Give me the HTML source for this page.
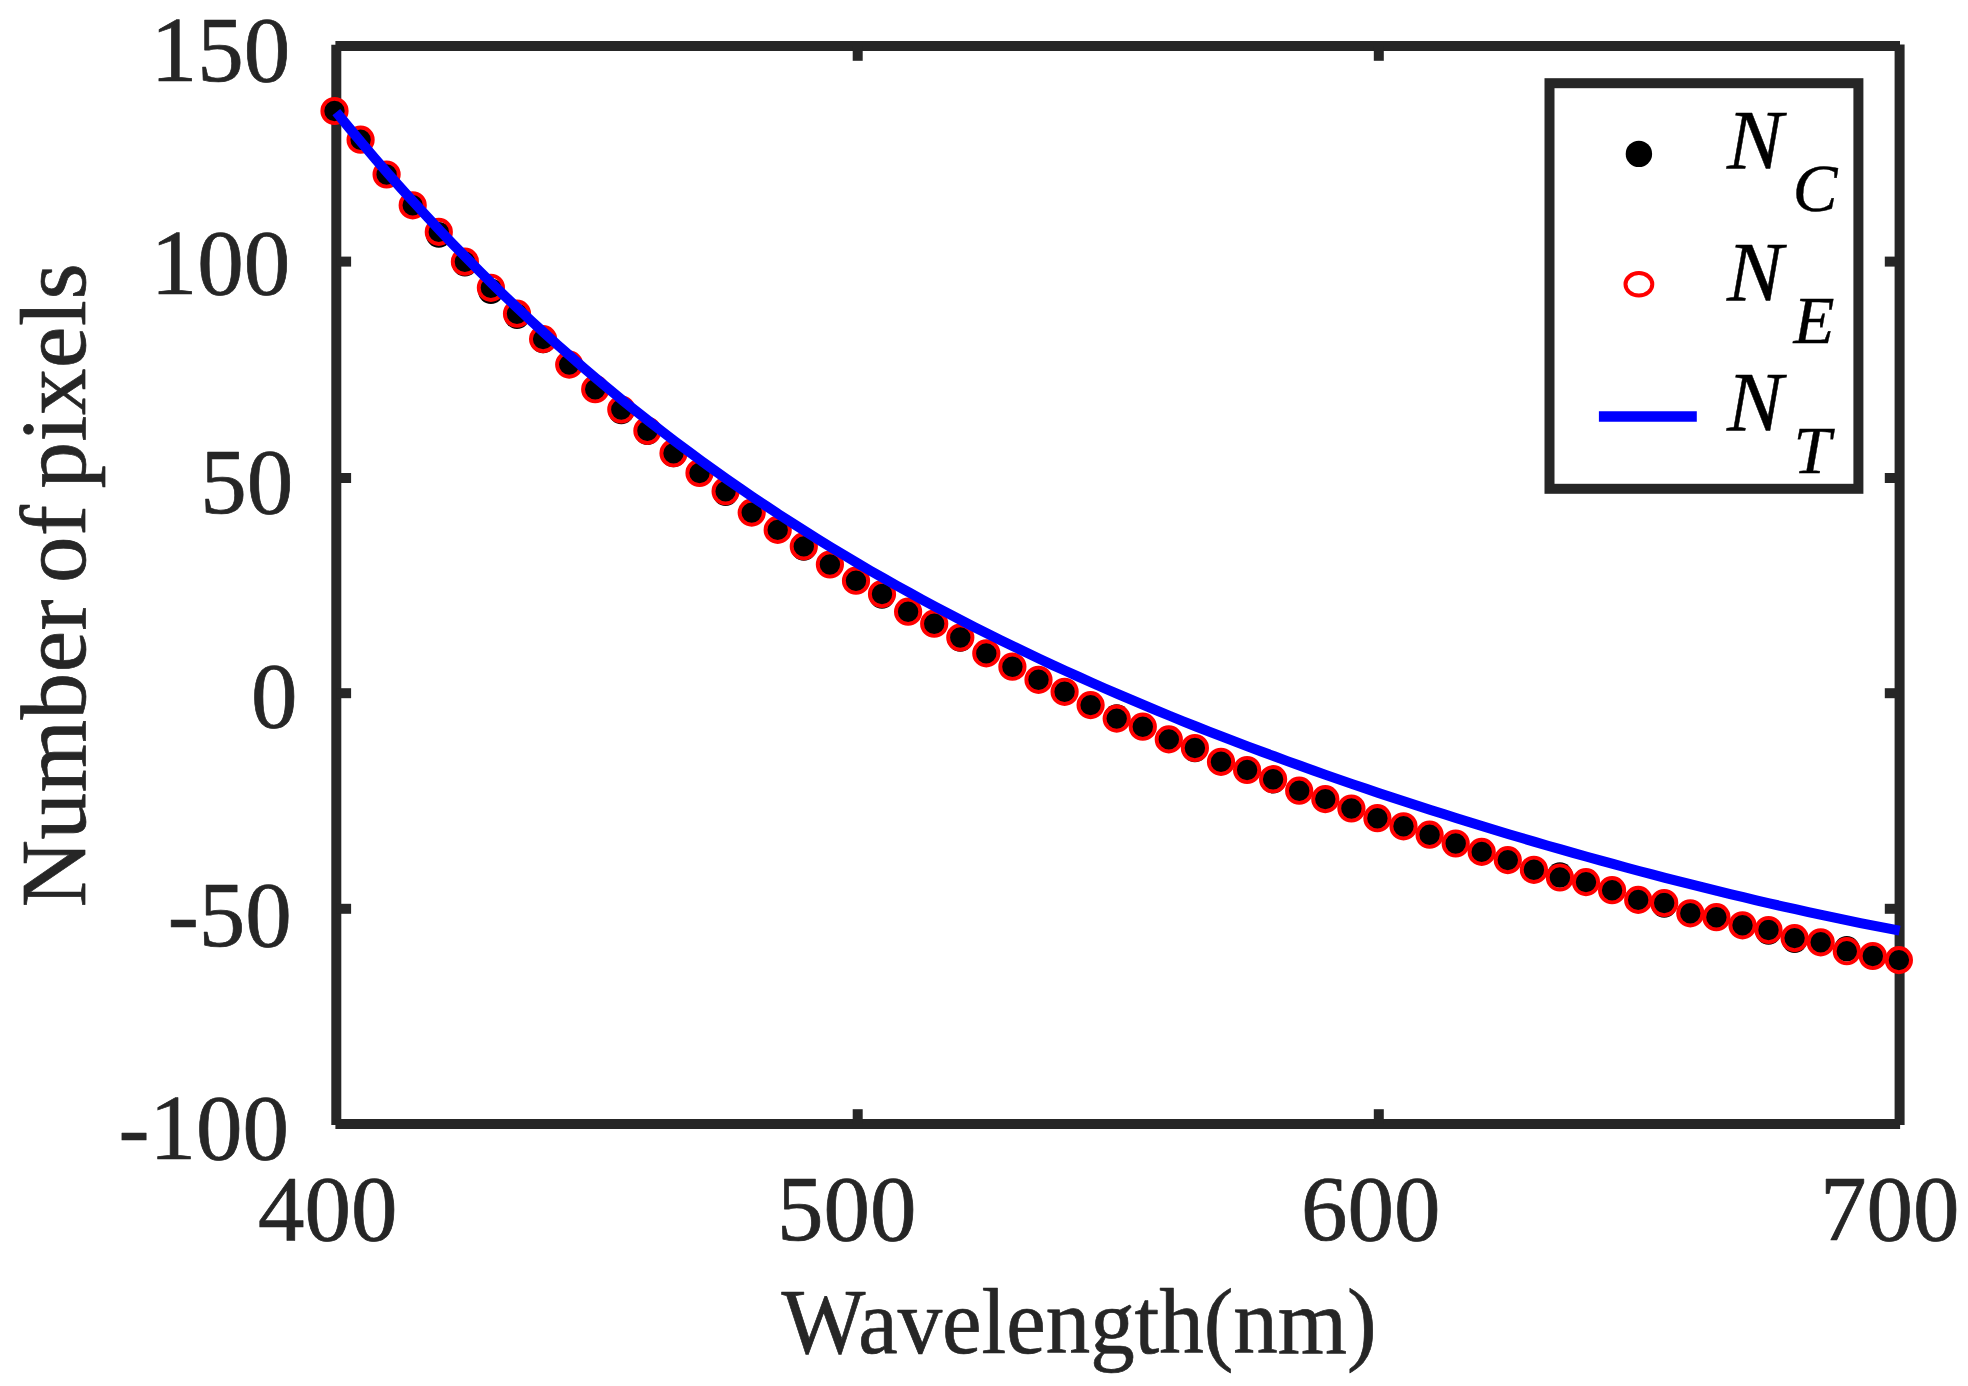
<!DOCTYPE html>
<html lang="en"><head><meta charset="utf-8"><title>Number of pixels vs Wavelength</title>
<style>
html,body{margin:0;padding:0;background:#fff;}
body{width:1968px;height:1386px;overflow:hidden;}
svg{display:block;}
text{font-family:"Liberation Serif","Times New Roman",serif;}
.tk{font-size:93px;fill:#262626;stroke:#262626;stroke-width:0.7px;stroke-linejoin:round;}
.lg{font-size:83.7px;fill:#000;font-style:italic;stroke:#000;stroke-width:0.5px;}
.sb{font-size:67px;fill:#000;font-style:italic;stroke:#000;stroke-width:0.4px;}
</style></head><body>
<svg width="1968" height="1386" viewBox="0 0 1968 1386">
<rect x="0" y="0" width="1968" height="1386" fill="#fff"/>
<g stroke="#262626" stroke-width="10" fill="none" stroke-linecap="butt">
<line x1="336.3" y1="44.7" x2="336.3" y2="1125"/>
<line x1="1899.6" y1="44.5" x2="1899.6" y2="1125"/>
<line x1="335.4" y1="46.0" x2="1900" y2="46.0"/>
<line x1="335.4" y1="1124.0" x2="1900.1" y2="1124.0"/>
<line x1="857.7" y1="1124.0" x2="857.7" y2="1109.2"/>
<line x1="857.7" y1="46.0" x2="857.7" y2="60.8"/>
<line x1="1378.8" y1="1124.0" x2="1378.8" y2="1109.2"/>
<line x1="1378.8" y1="46.0" x2="1378.8" y2="60.8"/>
<line x1="336.3" y1="261.6" x2="351.1" y2="261.6"/>
<line x1="1899.6" y1="261.6" x2="1884.8" y2="261.6"/>
<line x1="336.3" y1="478.0" x2="351.1" y2="478.0"/>
<line x1="1899.6" y1="478.0" x2="1884.8" y2="478.0"/>
<line x1="336.3" y1="693.2" x2="351.1" y2="693.2"/>
<line x1="1899.6" y1="693.2" x2="1884.8" y2="693.2"/>
<line x1="336.3" y1="908.8" x2="351.1" y2="908.8"/>
<line x1="1899.6" y1="908.8" x2="1884.8" y2="908.8"/>
</g>
<g fill="#000">
<circle cx="334.5" cy="111.0" r="12.8"/>
<circle cx="360.6" cy="139.7" r="12.8"/>
<circle cx="386.6" cy="174.5" r="12.8"/>
<circle cx="412.7" cy="205.3" r="12.8"/>
<circle cx="438.8" cy="234.9" r="12.8"/>
<circle cx="464.9" cy="263.7" r="12.8"/>
<circle cx="490.9" cy="291.3" r="12.8"/>
<circle cx="517.0" cy="316.2" r="12.8"/>
<circle cx="543.1" cy="340.4" r="12.8"/>
<circle cx="569.2" cy="364.6" r="12.8"/>
<circle cx="595.2" cy="389.2" r="12.8"/>
<circle cx="621.3" cy="411.5" r="12.8"/>
<circle cx="647.4" cy="432.1" r="12.8"/>
<circle cx="673.5" cy="454.5" r="12.8"/>
<circle cx="699.5" cy="473.0" r="12.8"/>
<circle cx="725.6" cy="493.2" r="12.8"/>
<circle cx="751.7" cy="512.6" r="12.8"/>
<circle cx="777.7" cy="529.9" r="12.8"/>
<circle cx="803.8" cy="547.9" r="12.8"/>
<circle cx="829.9" cy="564.5" r="12.8"/>
<circle cx="856.0" cy="580.7" r="12.8"/>
<circle cx="882.0" cy="596.0" r="12.8"/>
<circle cx="908.1" cy="611.7" r="12.8"/>
<circle cx="934.2" cy="623.7" r="12.8"/>
<circle cx="960.3" cy="639.0" r="12.8"/>
<circle cx="986.3" cy="653.4" r="12.8"/>
<circle cx="1012.4" cy="666.7" r="12.8"/>
<circle cx="1038.5" cy="679.8" r="12.8"/>
<circle cx="1064.6" cy="691.8" r="12.8"/>
<circle cx="1090.6" cy="705.1" r="12.8"/>
<circle cx="1116.7" cy="717.1" r="12.8"/>
<circle cx="1142.8" cy="726.7" r="12.8"/>
<circle cx="1168.8" cy="739.4" r="12.8"/>
<circle cx="1194.9" cy="749.5" r="12.8"/>
<circle cx="1221.0" cy="761.8" r="12.8"/>
<circle cx="1247.1" cy="770.0" r="12.8"/>
<circle cx="1273.1" cy="780.7" r="12.8"/>
<circle cx="1299.2" cy="790.7" r="12.8"/>
<circle cx="1325.3" cy="799.1" r="12.8"/>
<circle cx="1351.4" cy="808.5" r="12.8"/>
<circle cx="1377.4" cy="818.2" r="12.8"/>
<circle cx="1403.5" cy="826.3" r="12.8"/>
<circle cx="1429.6" cy="834.7" r="12.8"/>
<circle cx="1455.7" cy="843.5" r="12.8"/>
<circle cx="1481.7" cy="851.9" r="12.8"/>
<circle cx="1507.8" cy="860.1" r="12.8"/>
<circle cx="1533.9" cy="869.8" r="12.8"/>
<circle cx="1559.9" cy="875.0" r="12.8"/>
<circle cx="1586.0" cy="882.1" r="12.8"/>
<circle cx="1612.1" cy="890.2" r="12.8"/>
<circle cx="1638.2" cy="899.9" r="12.8"/>
<circle cx="1664.2" cy="905.0" r="12.8"/>
<circle cx="1690.3" cy="913.3" r="12.8"/>
<circle cx="1716.4" cy="917.2" r="12.8"/>
<circle cx="1742.5" cy="925.3" r="12.8"/>
<circle cx="1768.5" cy="932.0" r="12.8"/>
<circle cx="1794.6" cy="940.1" r="12.8"/>
<circle cx="1820.7" cy="942.3" r="12.8"/>
<circle cx="1846.8" cy="948.7" r="12.8"/>
<circle cx="1872.8" cy="956.0" r="12.8"/>
<circle cx="1898.9" cy="960.1" r="12.8"/>
</g>
<g fill="none" stroke="#f00" stroke-width="3.9">
<circle cx="334.5" cy="111.0" r="12.15"/>
<circle cx="360.6" cy="139.7" r="12.15"/>
<circle cx="386.6" cy="174.5" r="12.15"/>
<circle cx="412.7" cy="205.3" r="12.15"/>
<circle cx="438.8" cy="231.9" r="12.15"/>
<circle cx="464.9" cy="261.7" r="12.15"/>
<circle cx="490.9" cy="287.8" r="12.15"/>
<circle cx="517.0" cy="313.7" r="12.15"/>
<circle cx="543.1" cy="339.1" r="12.15"/>
<circle cx="569.2" cy="364.6" r="12.15"/>
<circle cx="595.2" cy="389.2" r="12.15"/>
<circle cx="621.3" cy="409.5" r="12.15"/>
<circle cx="647.4" cy="430.8" r="12.15"/>
<circle cx="673.5" cy="453.2" r="12.15"/>
<circle cx="699.5" cy="473.0" r="12.15"/>
<circle cx="725.6" cy="491.2" r="12.15"/>
<circle cx="751.7" cy="512.6" r="12.15"/>
<circle cx="777.7" cy="529.9" r="12.15"/>
<circle cx="803.8" cy="546.4" r="12.15"/>
<circle cx="829.9" cy="564.5" r="12.15"/>
<circle cx="856.0" cy="580.7" r="12.15"/>
<circle cx="882.0" cy="594.0" r="12.15"/>
<circle cx="908.1" cy="611.7" r="12.15"/>
<circle cx="934.2" cy="623.7" r="12.15"/>
<circle cx="960.3" cy="637.5" r="12.15"/>
<circle cx="986.3" cy="653.4" r="12.15"/>
<circle cx="1012.4" cy="666.7" r="12.15"/>
<circle cx="1038.5" cy="679.8" r="12.15"/>
<circle cx="1064.6" cy="691.8" r="12.15"/>
<circle cx="1090.6" cy="705.1" r="12.15"/>
<circle cx="1116.7" cy="718.6" r="12.15"/>
<circle cx="1142.8" cy="726.7" r="12.15"/>
<circle cx="1168.8" cy="739.4" r="12.15"/>
<circle cx="1194.9" cy="748.0" r="12.15"/>
<circle cx="1221.0" cy="761.8" r="12.15"/>
<circle cx="1247.1" cy="770.0" r="12.15"/>
<circle cx="1273.1" cy="779.2" r="12.15"/>
<circle cx="1299.2" cy="790.7" r="12.15"/>
<circle cx="1325.3" cy="799.1" r="12.15"/>
<circle cx="1351.4" cy="808.5" r="12.15"/>
<circle cx="1377.4" cy="818.2" r="12.15"/>
<circle cx="1403.5" cy="826.3" r="12.15"/>
<circle cx="1429.6" cy="834.7" r="12.15"/>
<circle cx="1455.7" cy="843.5" r="12.15"/>
<circle cx="1481.7" cy="851.9" r="12.15"/>
<circle cx="1507.8" cy="860.1" r="12.15"/>
<circle cx="1533.9" cy="869.8" r="12.15"/>
<circle cx="1559.9" cy="877.5" r="12.15"/>
<circle cx="1586.0" cy="882.1" r="12.15"/>
<circle cx="1612.1" cy="890.2" r="12.15"/>
<circle cx="1638.2" cy="899.9" r="12.15"/>
<circle cx="1664.2" cy="903.0" r="12.15"/>
<circle cx="1690.3" cy="913.3" r="12.15"/>
<circle cx="1716.4" cy="917.2" r="12.15"/>
<circle cx="1742.5" cy="925.3" r="12.15"/>
<circle cx="1768.5" cy="930.0" r="12.15"/>
<circle cx="1794.6" cy="938.1" r="12.15"/>
<circle cx="1820.7" cy="942.3" r="12.15"/>
<circle cx="1846.8" cy="951.2" r="12.15"/>
<circle cx="1872.8" cy="956.0" r="12.15"/>
<circle cx="1898.9" cy="960.1" r="12.15"/>
</g>
<polyline points="336.3,112.1 349.3,128.0 362.4,143.6 375.4,158.9 388.4,173.9 401.4,188.6 414.5,203.0 427.5,217.2 440.5,231.1 453.5,244.7 466.6,258.1 479.6,271.3 492.6,284.1 505.7,296.8 518.7,309.2 531.7,321.4 544.7,333.3 557.8,345.1 570.8,356.6 583.8,367.9 596.8,379.0 609.9,389.9 622.9,400.6 635.9,411.0 649.0,421.3 662.0,431.4 675.0,441.4 688.0,451.1 701.1,460.7 714.1,470.1 727.1,479.3 740.2,488.4 753.2,497.3 766.2,506.0 779.2,514.6 792.3,523.0 805.3,531.3 818.3,539.5 831.3,547.5 844.4,555.3 857.4,563.1 870.4,570.7 883.5,578.1 896.5,585.5 909.5,592.7 922.5,599.8 935.6,606.8 948.6,613.7 961.6,620.5 974.6,627.2 987.7,633.7 1000.7,640.2 1013.7,646.5 1026.8,652.8 1039.8,659.0 1052.8,665.1 1065.8,671.0 1078.9,676.9 1091.9,682.8 1104.9,688.5 1118.0,694.1 1131.0,699.7 1144.0,705.2 1157.0,710.6 1170.1,716.0 1183.1,721.3 1196.1,726.5 1209.1,731.6 1222.2,736.7 1235.2,741.7 1248.2,746.6 1261.3,751.5 1274.3,756.3 1287.3,761.1 1300.3,765.8 1313.4,770.5 1326.4,775.1 1339.4,779.6 1352.4,784.1 1365.5,788.5 1378.5,792.9 1391.5,797.3 1404.6,801.5 1417.6,805.8 1430.6,810.0 1443.6,814.1 1456.7,818.2 1469.7,822.3 1482.7,826.3 1495.7,830.2 1508.8,834.2 1521.8,838.0 1534.8,841.9 1547.9,845.7 1560.9,849.4 1573.9,853.1 1586.9,856.8 1600.0,860.4 1613.0,863.9 1626.0,867.5 1639.0,871.0 1652.1,874.4 1665.1,877.8 1678.1,881.1 1691.2,884.4 1704.2,887.7 1717.2,890.9 1730.2,894.1 1743.3,897.2 1756.3,900.3 1769.3,903.3 1782.4,906.3 1795.4,909.2 1808.4,912.1 1821.4,914.9 1834.5,917.7 1847.5,920.4 1860.5,923.1 1873.5,925.7 1886.6,928.2 1899.6,930.7" fill="none" stroke="#00f" stroke-width="10" stroke-linejoin="round"/>
<text class="tk" x="290.2" y="80.8" text-anchor="end">150</text>
<text class="tk" x="290.2" y="294.3" text-anchor="end">100</text>
<text class="tk" x="293.3" y="513.1" text-anchor="end">50</text>
<text class="tk" x="297.5" y="726.5" text-anchor="end">0</text>
<text class="tk" x="291.8" y="945.9" text-anchor="end">-50</text>
<text class="tk" x="288.9" y="1158.8" text-anchor="end">-100</text>
<text class="tk" x="327.7" y="1240.4" text-anchor="middle">400</text>
<text class="tk" x="846.7" y="1240.4" text-anchor="middle">500</text>
<text class="tk" x="1370.8" y="1240.4" text-anchor="middle">600</text>
<text class="tk" x="1889.8" y="1240.4" text-anchor="middle">700</text>
<text class="tk" transform="translate(781.4 1353.3) scale(0.956 1)">Wavelength(nm)</text>
<text class="tk" transform="translate(85 585) rotate(-90)" text-anchor="middle" style="letter-spacing:0.6px;word-spacing:-8px">Number of pixels</text>
<rect x="1549.5" y="83.2" width="308.9" height="405.6" fill="#fff" stroke="#262626" stroke-width="10"/>
<circle cx="1638.9" cy="153.9" r="13.2" fill="#000"/>
<ellipse cx="1638.9" cy="284.3" rx="13.4" ry="11.2" fill="none" stroke="#f00" stroke-width="4"/>
<line x1="1598.9" y1="416.5" x2="1696.8" y2="416.5" stroke="#00f" stroke-width="10.5"/>
<text class="lg" x="1727" y="168.7">N</text>
<text class="sb" x="1792.7" y="210.7">C</text>
<text class="lg" x="1727" y="301">N</text>
<text class="sb" x="1793.5" y="343">E</text>
<text class="lg" x="1727" y="430.7">N</text>
<text class="sb" x="1793.5" y="472.7">T</text>
</svg></body></html>
